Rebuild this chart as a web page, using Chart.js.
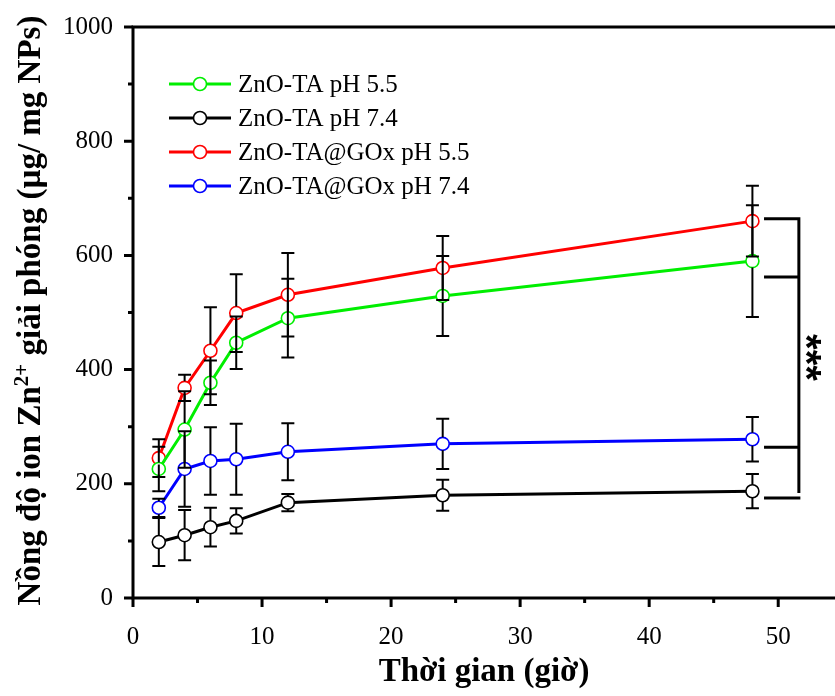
<!DOCTYPE html>
<html>
<head>
<meta charset="utf-8">
<script src="https://cdn.jsdelivr.net/npm/chart.js@4/dist/chart.umd.min.js"></script>
<style>
  html, body { margin: 0; padding: 0; background: #fff; }
  #wrap { width: 835px; height: 696px; }
</style>
</head>
<body>
<div id="wrap"><canvas id="c" width="835" height="696"></canvas></div>
<script>
// Release time points (hours)
const hours = [2, 4, 6, 8, 12, 24, 48];

// Zn2+ released (µg / mg NPs) and standard deviations
const seriesLabels = ['ZnO-TA pH 5.5', 'ZnO-TA pH 7.4', 'ZnO-TA@GOx pH 5.5', 'ZnO-TA@GOx pH 7.4'];
const seriesColors = ['#00ee00', '#000000', '#ff0000', '#0000ff'];

const znoTa55 = [226, 295, 377, 447, 490, 529, 590];
const znoTa55Err = [39, 67, 39, 46, 69, 70, 98];

const znoTa74 = [98, 110, 124, 135, 167, 180, 187];
const znoTa74Err = [42, 44, 34, 22, 15, 27, 30];

const znoTaGox55 = [245, 368, 433, 499, 531, 578, 660];
const znoTaGox55Err = [33, 23, 76, 68, 73, 56, 62];

const znoTaGox74 = [158, 226, 240, 243, 256, 270, 278];
const znoTaGox74Err = [16, 66, 59, 62, 50, 44, 39];

const xTickLabels = [0, 10, 20, 30, 40, 50];
const yTickLabels = [0, 200, 400, 600, 800, 1000];

// significance bracket levels (one tick per group) and its label
const sigLevels = [664, 562, 264, 175];
const sigText = '***';

const values = [znoTa55, znoTa74, znoTaGox55, znoTaGox74];
const errors = [znoTa55Err, znoTa74Err, znoTaGox55Err, znoTaGox74Err];

const SERIF = '"Liberation Serif", "Times New Roman", serif';
const MARKER_R = 6.5;

Chart.defaults.font.family = SERIF;
Chart.defaults.font.size = 25;
Chart.defaults.color = '#000';

const datasets = values.map((vals, i) => ({
  label: seriesLabels[i],
  data: hours.map((h, k) => ({ x: h, y: vals[k] })),
  borderColor: seriesColors[i],
  backgroundColor: '#ffffff',
  borderWidth: 3,
  pointRadius: MARKER_R,
  pointBorderWidth: 1.6,
  pointBackgroundColor: '#ffffff',
  pointBorderColor: seriesColors[i],
  tension: 0,
  errors: errors[i]
}));

// Frame, tick marks, error bars, legend, y title and significance bracket
const decorations = {
  id: 'decorations',
  afterDatasetsDraw(chart) {
    const ctx = chart.ctx;
    const xs = chart.scales.x, ys = chart.scales.y;
    ctx.save();
    ctx.strokeStyle = '#000';
    ctx.lineWidth = 2;
    chart.data.datasets.forEach(ds => {
      ds.data.forEach((p, k) => {
        const e = ds.errors[k];
        const px = xs.getPixelForValue(p.x);
        const py = ys.getPixelForValue(p.y);
        const top = ys.getPixelForValue(p.y + e);
        const bot = ys.getPixelForValue(p.y - e);
        ctx.beginPath();
        if (py - MARKER_R > top) { ctx.moveTo(px, top); ctx.lineTo(px, py - MARKER_R); }
        if (py + MARKER_R < bot) { ctx.moveTo(px, py + MARKER_R); ctx.lineTo(px, bot); }
        ctx.moveTo(px - 6.5, top); ctx.lineTo(px + 6.5, top);
        ctx.moveTo(px - 6.5, bot); ctx.lineTo(px + 6.5, bot);
        ctx.stroke();
      });
    });
    ctx.restore();
  },
  afterDraw(chart) {
    const ctx = chart.ctx;
    const a = chart.chartArea;
    const xs = chart.scales.x, ys = chart.scales.y;
    ctx.save();
    // frame: left, bottom, top
    ctx.strokeStyle = '#000';
    ctx.lineWidth = 3;
    ctx.lineCap = 'square';
    ctx.beginPath();
    ctx.moveTo(chart.width + 2, a.top); ctx.lineTo(a.left, a.top);
    ctx.lineTo(a.left, a.bottom); ctx.lineTo(chart.width + 2, a.bottom);
    ctx.stroke();
    ctx.lineCap = 'butt';
    // tick marks (major + minor)
    ctx.lineWidth = 3;
    ctx.beginPath();
    for (let v = 0; v <= 1000; v += 100) {
      const y = ys.getPixelForValue(v);
      const len = v % 200 === 0 ? 9 : 5;
      ctx.moveTo(a.left, y); ctx.lineTo(a.left - len, y);
    }
    for (let v = 0; v <= 50; v += 5) {
      const x = xs.getPixelForValue(v);
      const len = v % 10 === 0 ? 9 : 5;
      ctx.moveTo(x, a.bottom); ctx.lineTo(x, a.bottom + len);
    }
    ctx.stroke();

    // legend
    ctx.font = '25px ' + SERIF;
    ctx.textBaseline = 'middle';
    ctx.textAlign = 'left';
    chart.data.datasets.forEach((ds, i) => {
      const y = 84 + i * 34;
      ctx.strokeStyle = ds.borderColor;
      ctx.lineWidth = 3;
      ctx.beginPath(); ctx.moveTo(169, y); ctx.lineTo(231, y); ctx.stroke();
      ctx.beginPath(); ctx.arc(200, y, MARKER_R, 0, Math.PI * 2);
      ctx.fillStyle = '#fff'; ctx.fill();
      ctx.lineWidth = 1.6; ctx.stroke();
      ctx.fillStyle = '#000';
      ctx.fillText(ds.label, 238, y + 1);
    });

    // y axis title with superscript
    const big = 'bold 33px ' + SERIF, small = 'bold 21px ' + SERIF;
    const parts = [['Nồng độ ion Zn', big, 0], ['2+', small, -12], [' giải phóng (µg/ mg NPs)', big, 0]];
    let total = 0;
    parts.forEach(p => { ctx.font = p[1]; total += ctx.measureText(p[0]).width; });
    ctx.translate(29, (a.top + a.bottom) / 2 - 2);
    ctx.rotate(-Math.PI / 2);
    ctx.textBaseline = 'alphabetic';
    let cx = -total / 2;
    parts.forEach(p => {
      ctx.font = p[1];
      ctx.fillText(p[0], cx, 11 + p[2]);
      cx += ctx.measureText(p[0]).width;
    });
    ctx.setTransform(1, 0, 0, 1, 0, 0);

    // significance bracket
    const bx = xs.getPixelForValue(51.6);
    const bx0 = xs.getPixelForValue(48.9);
    ctx.strokeStyle = '#000';
    ctx.lineWidth = 3;
    ctx.beginPath();
    const yTop = ys.getPixelForValue(sigLevels[0]);
    const yBot = ys.getPixelForValue(sigLevels[sigLevels.length - 1]);
    ctx.moveTo(bx, yTop - 1.5); ctx.lineTo(bx, yBot - 5);
    sigLevels.forEach(v => {
      const y = ys.getPixelForValue(v);
      ctx.moveTo(bx0, y); ctx.lineTo(bx + 1.5, y);
    });
    ctx.stroke();
    ctx.translate(bx + 13, (yTop + yBot) / 2 - 1);
    ctx.rotate(Math.PI / 2);
    ctx.font = 'bold 40px "Liberation Sans", Arial, sans-serif';
    ctx.textAlign = 'center';
    ctx.textBaseline = 'middle';
    ctx.fillStyle = '#000';
    ctx.fillText(sigText, 0, 8);
    ctx.restore();
  }
};

new Chart(document.getElementById('c'), {
  type: 'line',
  data: { datasets },
  options: {
    responsive: false,
    animation: false,
    devicePixelRatio: 1,
    layout: { autoPadding: false, padding: { top: 27, right: 0, left: 0, bottom: 0 } },
    plugins: { legend: { display: false }, tooltip: { enabled: false } },
    scales: {
      x: {
        type: 'linear',
        min: 0,
        max: 54.4,
        border: { display: false },
        grid: { display: false, drawTicks: false },
        afterBuildTicks: s => { s.ticks = xTickLabels.map(v => ({ value: v })); },
        afterFit: s => { s.height = 98; s.paddingLeft = 0; s.paddingRight = 0; },
        ticks: {
          padding: 24,
          color: '#000',
          font: { family: SERIF, size: 25 },
          maxRotation: 0,
          callback: v => String(v)
        },
        title: {
          display: true,
          text: 'Thời gian (giờ)',
          color: '#000',
          font: { family: SERIF, size: 33, weight: 'bold' },
          padding: { top: 0, bottom: 4 }
        }
      },
      y: {
        type: 'linear',
        min: 0,
        max: 1000,
        border: { display: false },
        grid: { display: false, drawTicks: false },
        afterBuildTicks: s => { s.ticks = yTickLabels.map(v => ({ value: v })); },
        afterFit: s => { s.width = 133; s.paddingTop = 0; s.paddingBottom = 0; },
        ticks: {
          padding: 20,
          color: '#000',
          font: { family: SERIF, size: 25 },
          callback: v => String(v)
        }
      }
    }
  },
  plugins: [decorations]
});
</script>
</body>
</html>
